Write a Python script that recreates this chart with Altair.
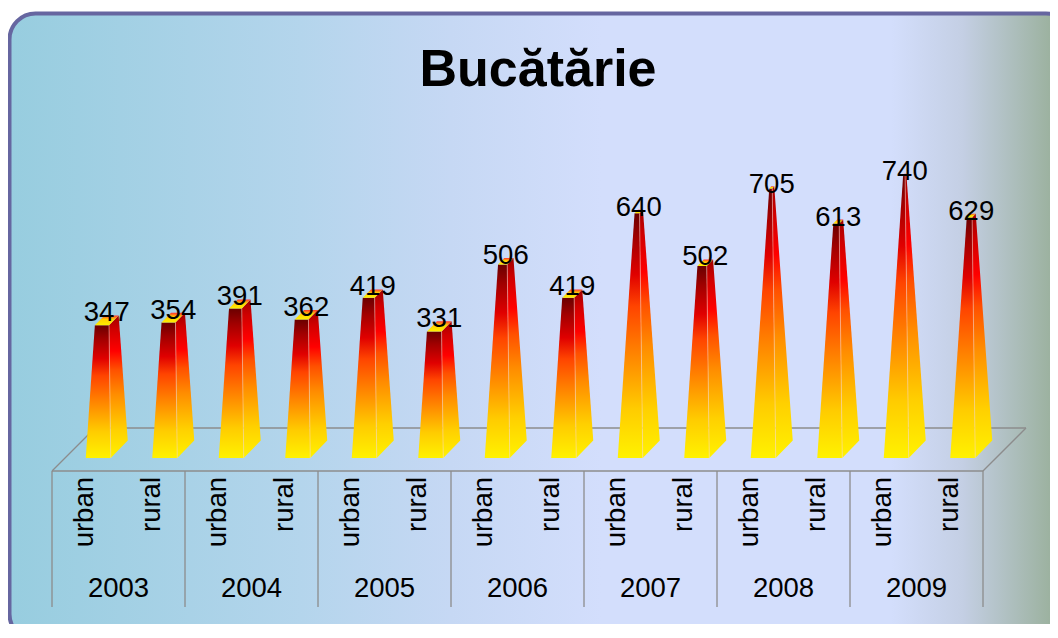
import altair as alt
import pandas as pd

# ---------------- data ----------------
years = ["2003", "2004", "2005", "2006", "2007", "2008", "2009"]
areas = ["urban", "rural"]
values = [347, 354, 391, 362, 419, 331, 506, 419, 640, 502, 705, 613, 740, 629]

# ---------------- layout constants (pixels) ----------------
W, H = 1042, 616
SLOT_PX = 66.5      # width of one category slot
X0_PX = 77.25       # svg x of first slot centre
Y0_PX = 450.0       # svg y of value 0 (front base of pyramids)
K = 0.3715          # px per value unit
M = 800             # apex value (axis max)

FW = 25 / SLOT_PX   # front width of base
DX = 17 / SLOT_PX   # oblique depth x
DY = 17.5 / K       # oblique depth y (value units)
FLOOR_DX = 43 / SLOT_PX
FLOOR_FRONT = (Y0_PX - 463) / K
FLOOR_BACK = (Y0_PX - 420) / K
TABLE_BOTTOM = (Y0_PX - 599) / K
CAT_Y = (Y0_PX - 469) / K
YEAR_Y = (Y0_PX - 589) / K

xscale = alt.Scale(domain=[(0 - X0_PX) / SLOT_PX, (W - X0_PX) / SLOT_PX], nice=False, zero=False)
yscale = alt.Scale(domain=[(Y0_PX - H) / K, Y0_PX / K], nice=False, zero=False)

# ---------------- geometry from data ----------------
front_rows, side_rows, top_rows, edge_rows, label_rows, cat_rows = [], [], [], [], [], []


def lerp_x(p, q, y):
    return p[0] + (q[0] - p[0]) * (y - p[1]) / (q[1] - p[1])


i = 0
for yi, yr in enumerate(years):
    for ai, ar in enumerate(areas):
        v = values[i]
        t = v / M
        x0 = i + 0.5 / SLOT_PX
        P = (x0 + FW / 2 + DX / 2, DY / 2 + M)
        FL = (x0, 0.0)
        FR = (x0 + FW, 0.0)
        BR = (x0 + FW + DX, DY)
        BL = (x0 + DX, DY)

        def cut(p):
            return (p[0] + t * (P[0] - p[0]), p[1] + t * (P[1] - p[1]))

        FLc, FRc, BRc, BLc = cut(FL), cut(FR), cut(BR), cut(BL)
        front_rows += [
            dict(bar=i, Y=0.0, X=FL[0], X2=FR[0]),
            dict(bar=i, Y=FLc[1], X=FLc[0], X2=FRc[0]),
        ]
        side_rows += [
            dict(bar=i, Y=0.0, X=FR[0], X2=FR[0]),
            dict(bar=i, Y=DY, X=lerp_x(FR, FRc, DY), X2=BR[0]),
            dict(bar=i, Y=FRc[1], X=FRc[0], X2=lerp_x(BR, BRc, FRc[1])),
            dict(bar=i, Y=BRc[1], X=BRc[0], X2=BRc[0]),
        ]
        top_rows += [
            dict(bar=i, Y=FLc[1], X=FLc[0], X2=FRc[0]),
            dict(bar=i, Y=BLc[1], X=BLc[0], X2=BRc[0]),
        ]
        edge_rows.append(dict(X=FR[0], Y=0.0, X2=FRc[0], Y2=FRc[1]))
        label_rows.append(dict(X=P[0], Y=55 + 0.966 * v, value=v))
        cat_rows.append(dict(X=i, Y=CAT_Y, cat=ar))
        i += 1

front_df = pd.DataFrame(front_rows)
side_df = pd.DataFrame(side_rows)
top_df = pd.DataFrame(top_rows)
edge_df = pd.DataFrame(edge_rows)
label_df = pd.DataFrame(label_rows)
cat_df = pd.DataFrame(cat_rows)
year_df = pd.DataFrame(dict(X=[2 * j + 0.5 for j in range(len(years))], Y=[YEAR_Y] * len(years), year=years))

nb = len(values)
left_x = -0.5
right_x = nb - 0.5
floor_df = pd.DataFrame(dict(
    X=[left_x, left_x + FLOOR_DX, left_x, right_x],
    Y=[FLOOR_FRONT, FLOOR_BACK, FLOOR_FRONT, FLOOR_FRONT],
    X2=[right_x, right_x + FLOOR_DX, left_x + FLOOR_DX, right_x + FLOOR_DX],
    Y2=[FLOOR_FRONT, FLOOR_BACK, FLOOR_BACK, FLOOR_BACK],
))
sep_df = pd.DataFrame(dict(X=[left_x + 2 * j for j in range(len(years) + 1)],
                           Y=[FLOOR_FRONT] * (len(years) + 1),
                           Y2=[TABLE_BOTTOM] * (len(years) + 1)))

FONT = "Liberation Sans"
LINE = "#8C8C8C"

front_grad = {"gradient": "linear", "x1": 0, "y1": 1, "x2": 0, "y2": 0, "stops": [
    {"offset": 0.0, "color": "#FFF200"},
    {"offset": 0.2, "color": "#FFCC00"},
    {"offset": 0.45, "color": "#FF7C00"},
    {"offset": 0.62, "color": "#FF4400"},
    {"offset": 0.75, "color": "#E00000"},
    {"offset": 0.9, "color": "#A00000"},
    {"offset": 1.0, "color": "#6A0000"},
]}
side_grad = {"gradient": "linear", "x1": 0, "y1": 1, "x2": 0, "y2": 0, "stops": [
    {"offset": 0.0, "color": "#FFF200"},
    {"offset": 0.2, "color": "#FFD000"},
    {"offset": 0.45, "color": "#FF8C00"},
    {"offset": 0.62, "color": "#FF5000"},
    {"offset": 0.75, "color": "#FF0000"},
    {"offset": 0.9, "color": "#D00000"},
    {"offset": 1.0, "color": "#A00000"},
]}
top_grad = {"gradient": "linear", "x1": 0, "y1": 1, "x2": 0, "y2": 0, "stops": [
    {"offset": 0.0, "color": "#FFF000"},
    {"offset": 0.6, "color": "#FFD000"},
    {"offset": 1.0, "color": "#FF3030"},
]}
bg_grad = {"gradient": "linear", "x1": 0, "y1": 0, "x2": 1, "y2": 0, "stops": [
    {"offset": 0.0, "color": "#97CDDF"},
    {"offset": 0.274, "color": "#B4D5EC"},
    {"offset": 0.416, "color": "#C6D8F4"},
    {"offset": 0.557, "color": "#D3DEFC"},
    {"offset": 0.83, "color": "#D3DEFC"},
    {"offset": 0.897, "color": "#C4CFE4"},
    {"offset": 0.99, "color": "#97AE97"},
    {"offset": 1.0, "color": "#94AC94"},
]}

one = pd.DataFrame({"a": [0]})

background = alt.Chart(one).mark_rect(
    fill=bg_grad, stroke="#6666A0", strokeWidth=4, cornerRadius=26
).encode(x=alt.value(1.5), x2=alt.value(1064), y=alt.value(5.5), y2=alt.value(632))

title = alt.Chart(one).mark_text(
    text="Bucătărie", font=FONT, fontSize=52, fontWeight="bold", color="#000000",
    align="center", baseline="alphabetic"
).encode(x=alt.value(530), y=alt.value(78))


def X(f="X"):
    return alt.X(f"{f}:Q", scale=xscale, axis=None)


def Y(f="Y"):
    return alt.Y(f"{f}:Q", scale=yscale, axis=None)


floor = alt.Chart(floor_df).mark_rule(color=LINE, strokeWidth=1.3).encode(
    x=X(), y=Y(), x2="X2:Q", y2="Y2:Q")
seps = alt.Chart(sep_df).mark_rule(color=LINE, strokeWidth=1.3).encode(
    x=X(), y=Y(), y2="Y2:Q")


def face(df, grad):
    return alt.Chart(df).mark_area(orient="horizontal", fill=grad).encode(
        y=Y(), x=X(), x2="X2:Q", detail="bar:N")


fronts = face(front_df, front_grad)
sides = face(side_df, side_grad)
tops = face(top_df, top_grad)
edges = alt.Chart(edge_df).mark_rule(color="#FFD8C8", strokeWidth=0.8, opacity=0.6).encode(
    x=X(), y=Y(), x2="X2:Q", y2="Y2:Q")

labels = alt.Chart(label_df).mark_text(
    font=FONT, fontSize=27.5, color="#000000", align="center", baseline="middle"
).encode(x=X(), y=Y(), text="value:Q")

cats = alt.Chart(cat_df).mark_text(
    font=FONT, fontSize=27.5, color="#000000", angle=270, align="right", baseline="middle"
).encode(x=X(), y=Y(), text="cat:N")

yrs = alt.Chart(year_df).mark_text(
    font=FONT, fontSize=27.5, color="#000000", align="center", baseline="alphabetic"
).encode(x=X(), y=Y(), text="year:N")

chart = alt.layer(
    background, floor, seps, fronts, sides, tops, edges, labels, cats, yrs, title
).properties(
    width=W, height=H, padding=0, autosize=alt.AutoSizeParams(type="none"), background="#FFFFFF"
).configure_view(stroke=None)

chart.save("out.html", embed_options={"renderer": "svg", "actions": False})
